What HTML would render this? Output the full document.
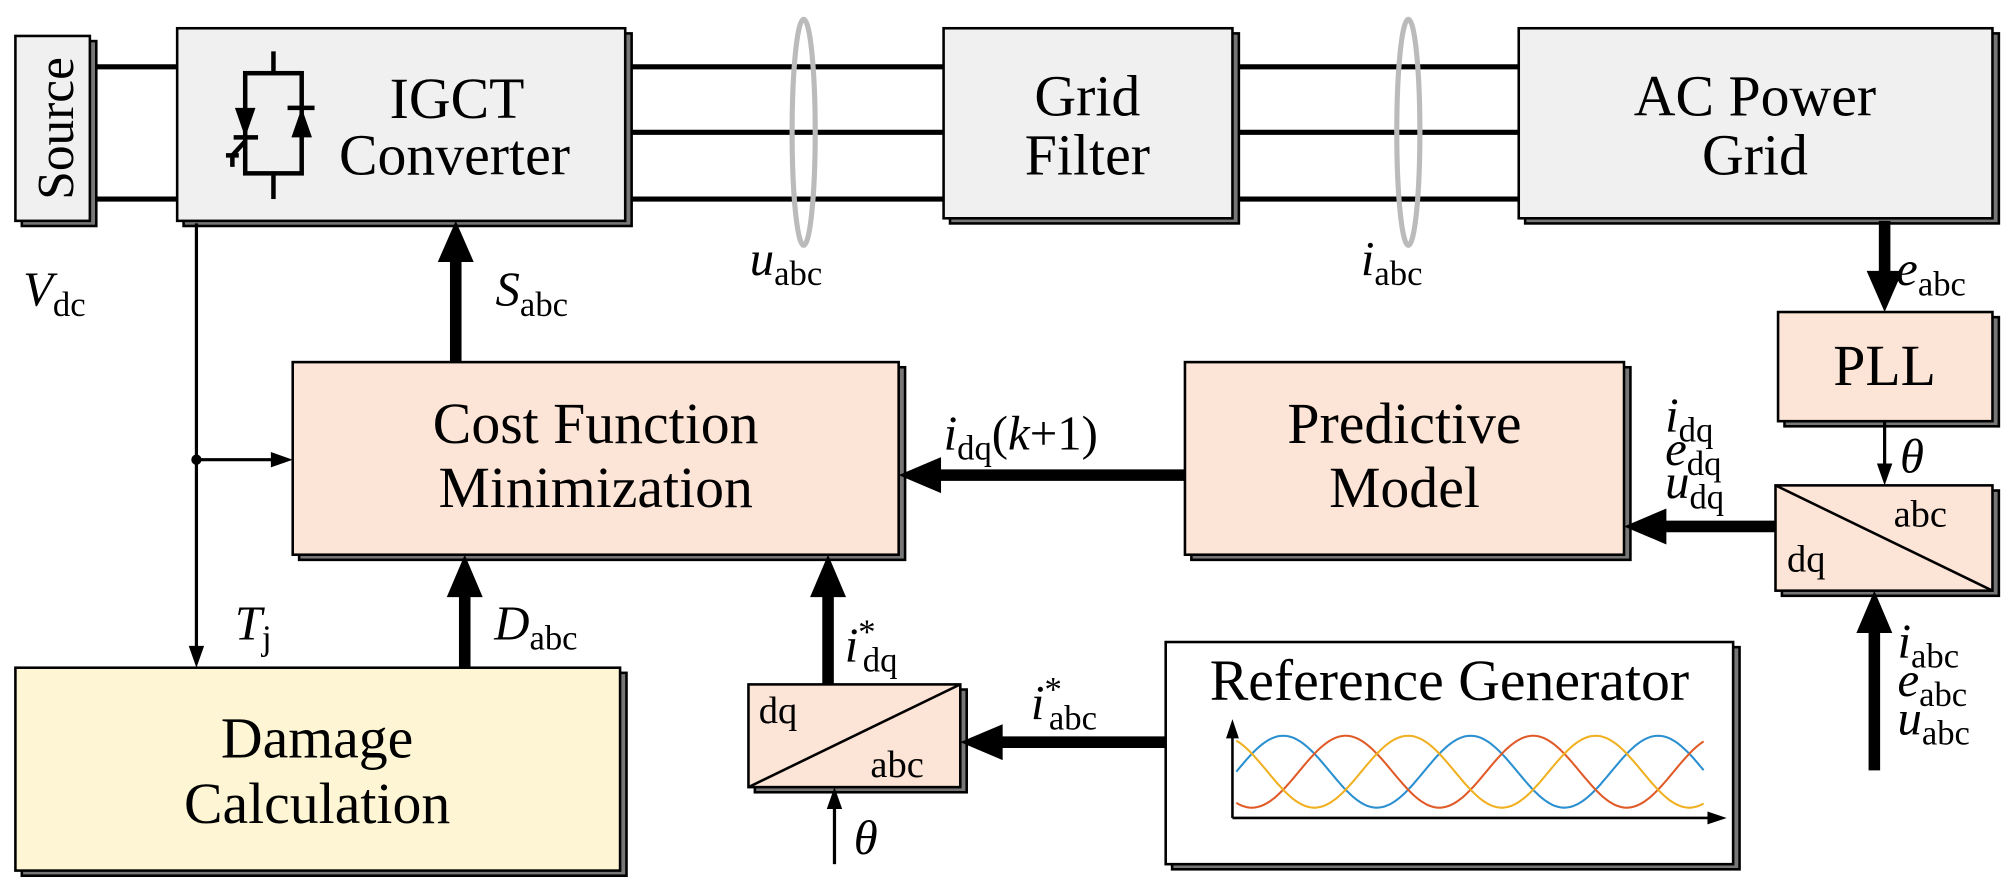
<!DOCTYPE html>
<html><head><meta charset="utf-8"><style>
html,body{margin:0;padding:0;background:#fff;}
svg{display:block;}
text{font-family:"Liberation Serif",serif;fill:#000;}
.t{font-size:45px;text-anchor:middle;}
.m{font-size:38px;font-style:italic;}
.s{font-size:27px;font-style:normal;}
</style></head><body>
<svg width="2013" height="886" viewBox="0 0 1568 690" preserveAspectRatio="none" xmlns="http://www.w3.org/2000/svg">
<!-- power lines -->
<g stroke="#000" stroke-width="4">
<line x1="70" y1="52" x2="140" y2="52"/><line x1="70" y1="155" x2="140" y2="155"/>
<line x1="487" y1="52" x2="1185" y2="52"/><line x1="487" y1="103" x2="1185" y2="103"/><line x1="487" y1="155" x2="1185" y2="155"/>
</g>
<ellipse cx="626" cy="103" rx="9" ry="88" fill="none" stroke="#bbb" stroke-width="4"/>
<ellipse cx="1097" cy="103" rx="9" ry="88" fill="none" stroke="#bbb" stroke-width="4"/>

<g stroke="#000" stroke-width="2">
<rect x="17" y="32" width="58" height="144" fill="#777"/>
<rect x="12" y="28" width="58" height="144" fill="#f0f0f0"/>
<rect x="143" y="26" width="349" height="150" fill="#777"/>
<rect x="138" y="22" width="349" height="150" fill="#f0f0f0"/>
<rect x="740" y="26" width="225" height="148" fill="#777"/>
<rect x="735" y="22" width="225" height="148" fill="#f0f0f0"/>
<rect x="1188" y="26" width="369" height="148" fill="#777"/>
<rect x="1183" y="22" width="369" height="148" fill="#f0f0f0"/>

<rect x="1390" y="247" width="167" height="85" fill="#777"/>
<rect x="1385" y="243" width="167" height="85" fill="#fce4d6"/>
<rect x="1388" y="382" width="169" height="82" fill="#777"/>
<rect x="1383" y="378" width="169" height="82" fill="#fce4d6"/>
<rect x="928" y="286" width="342" height="150" fill="#777"/>
<rect x="923" y="282" width="342" height="150" fill="#fce4d6"/>
<rect x="233" y="286" width="472" height="150" fill="#777"/>
<rect x="228" y="282" width="472" height="150" fill="#fce4d6"/>
<rect x="17" y="524" width="471" height="158" fill="#777"/>
<rect x="12" y="520" width="471" height="158" fill="#fdf5d3"/>
<rect x="588" y="537" width="165" height="80" fill="#777"/>
<rect x="583" y="533" width="165" height="80" fill="#fce4d6"/>
<rect x="913" y="504" width="442" height="173" fill="#777"/>
<rect x="908" y="500" width="442" height="173" fill="#fff"/>
</g>
<line x1="1383" y1="378" x2="1552" y2="460" stroke="#000" stroke-width="2"/>
<line x1="583" y1="613" x2="748" y2="533" stroke="#000" stroke-width="2"/>

<!-- IGCT symbol -->
<g stroke="#000" stroke-width="3.5" fill="none">
<line x1="213" y1="40" x2="213" y2="57"/>
<rect x="191" y="57" width="44" height="78"/>
<line x1="213" y1="135" x2="213" y2="155"/>
<line x1="182" y1="107" x2="201" y2="107"/>
<line x1="224" y1="84" x2="245" y2="84"/>
<polyline points="191,110 181,121 181,130"/>
<line x1="176" y1="121" x2="186" y2="121"/>
</g>
<polygon points="183,84 199,84 191,107" fill="#000"/>
<polygon points="227,107 243,107 235,84" fill="#000"/>

<text class="t" transform="translate(57,100) rotate(-90)" style="font-size:40px">Source</text>
<text class="t" x="356" y="92">IGCT</text>
<text class="t" x="354" y="136">Converter</text>
<text class="t" x="847" y="90">Grid</text>
<text class="t" x="847" y="136">Filter</text>
<text class="t" x="1367" y="90">AC Power</text>
<text class="t" x="1367" y="136">Grid</text>
<text class="t" x="1468" y="300">PLL</text>
<text x="1475" y="410" style="font-size:30px">abc</text>
<text x="1392" y="445" style="font-size:30px">dq</text>
<text x="591" y="563" style="font-size:30px">dq</text>
<text x="678" y="605" style="font-size:30px">abc</text>
<text class="t" x="1094" y="345">Predictive</text>
<text class="t" x="1094" y="395">Model</text>
<text class="t" x="464" y="345">Cost Function</text>
<text class="t" x="464" y="395">Minimization</text>
<text class="t" x="247" y="590">Damage</text>
<text class="t" x="247" y="641">Calculation</text>
<text class="t" x="1129" y="545">Reference Generator</text>

<g id="waves"></g>
<line x1="960" y1="637" x2="1335" y2="637" stroke="#000" stroke-width="2"/>
<polygon points="1345,637 1330,632 1330,642" fill="#000"/>
<line x1="960" y1="637" x2="960" y2="570" stroke="#000" stroke-width="2"/>
<polygon points="960,560 955,575 965,575" fill="#000"/>

<g stroke="#000" stroke-width="9">
<line x1="355" y1="282" x2="355" y2="200"/>
<line x1="362" y1="520" x2="362" y2="462"/>
<line x1="645" y1="533" x2="645" y2="462"/>
<line x1="923" y1="370" x2="730" y2="370"/>
<line x1="1383" y1="410" x2="1295" y2="410"/>
<line x1="1468" y1="172" x2="1468" y2="214"/>
<line x1="908" y1="578" x2="778" y2="578"/>
<line x1="1460" y1="600" x2="1460" y2="490"/>
</g>
<g fill="#000">
<polygon points="355,172 341,204 369,204"/>
<polygon points="362,432 348,465 376,465"/>
<polygon points="645,432 631,465 659,465"/>
<polygon points="700,370 733,356 733,384"/>
<polygon points="1265,410 1298,396 1298,424"/>
<polygon points="1468,243 1454,211 1482,211"/>
<polygon points="748,578 781,564 781,592"/>
<polygon points="1460,460 1446,493 1474,493"/>
</g>
<g stroke="#000" stroke-width="2.5">
<line x1="153" y1="174" x2="153" y2="505"/>
<line x1="153" y1="358" x2="213" y2="358"/>
<line x1="1468" y1="328" x2="1468" y2="364"/>
<line x1="650" y1="673" x2="650" y2="628"/>
</g>
<circle cx="153" cy="358" r="4" fill="#000"/>
<g fill="#000">
<polygon points="153,520 147,503 159,503"/>
<polygon points="228,358 211,352 211,364"/>
<polygon points="1468,378 1462,361 1474,361"/>
<polygon points="650,613 644,630 656,630"/>
</g>

<text class="m" x="18" y="238">V<tspan class="s" dy="8">dc</tspan></text>
<text class="m" x="386" y="238">S<tspan class="s" dy="8">abc</tspan></text>
<text class="m" x="584" y="214">u<tspan class="s" dy="8">abc</tspan></text>
<text class="m" x="1060" y="214">i<tspan class="s" dy="8">abc</tspan></text>
<text class="m" x="1477" y="222">e<tspan class="s" dy="8">abc</tspan></text>
<text class="m" x="1480" y="368">θ</text>
<text class="m" x="1297" y="336">i<tspan class="s" dy="8">dq</tspan></text>
<text class="m" x="1297" y="362">e<tspan class="s" dy="8">dq</tspan></text>
<text class="m" x="1297" y="388">u<tspan class="s" dy="8">dq</tspan></text>
<text class="m" x="735" y="350">i<tspan class="s" dy="8">dq</tspan><tspan dy="-8" style="font-style:normal">(</tspan>k<tspan style="font-style:normal">+1)</tspan></text>
<text class="m" x="183" y="498">T<tspan class="s" dy="8">j</tspan></text>
<text class="m" x="385" y="498">D<tspan class="s" dy="8">abc</tspan></text>
<text class="m" x="658" y="515">i<tspan class="s" dy="-14">*</tspan><tspan class="s" dx="-10" dy="22">dq</tspan></text>
<text class="m" x="803" y="560">i<tspan class="s" dy="-14">*</tspan><tspan class="s" dx="-10" dy="22">abc</tspan></text>
<text class="m" x="665" y="665">θ</text>
<text class="m" x="1478" y="512">i<tspan class="s" dy="8">abc</tspan></text>
<text class="m" x="1478" y="542">e<tspan class="s" dy="8">abc</tspan></text>
<text class="m" x="1478" y="572">u<tspan class="s" dy="8">abc</tspan></text>
</svg>
<script>
(function(){
var g=document.getElementById('waves');var ns='http://www.w3.org/2000/svg';
var cols=['#2a8fd0','#e05a28','#f0b020'];var ph=[0,-2*Math.PI/3,2*Math.PI/3];
for(var k=0;k<3;k++){var d='';for(var x=0;x<=365;x+=2){var th=2*Math.PI*x/146;var y=601-28*Math.sin(th+ph[k]);d+=(x?'L':'M')+(963+x)+','+y.toFixed(1);}
var p=document.createElementNS(ns,'path');p.setAttribute('d',d);p.setAttribute('fill','none');p.setAttribute('stroke',cols[k]);p.setAttribute('stroke-width','1.6');g.appendChild(p);}
})();
</script>
</body></html>
